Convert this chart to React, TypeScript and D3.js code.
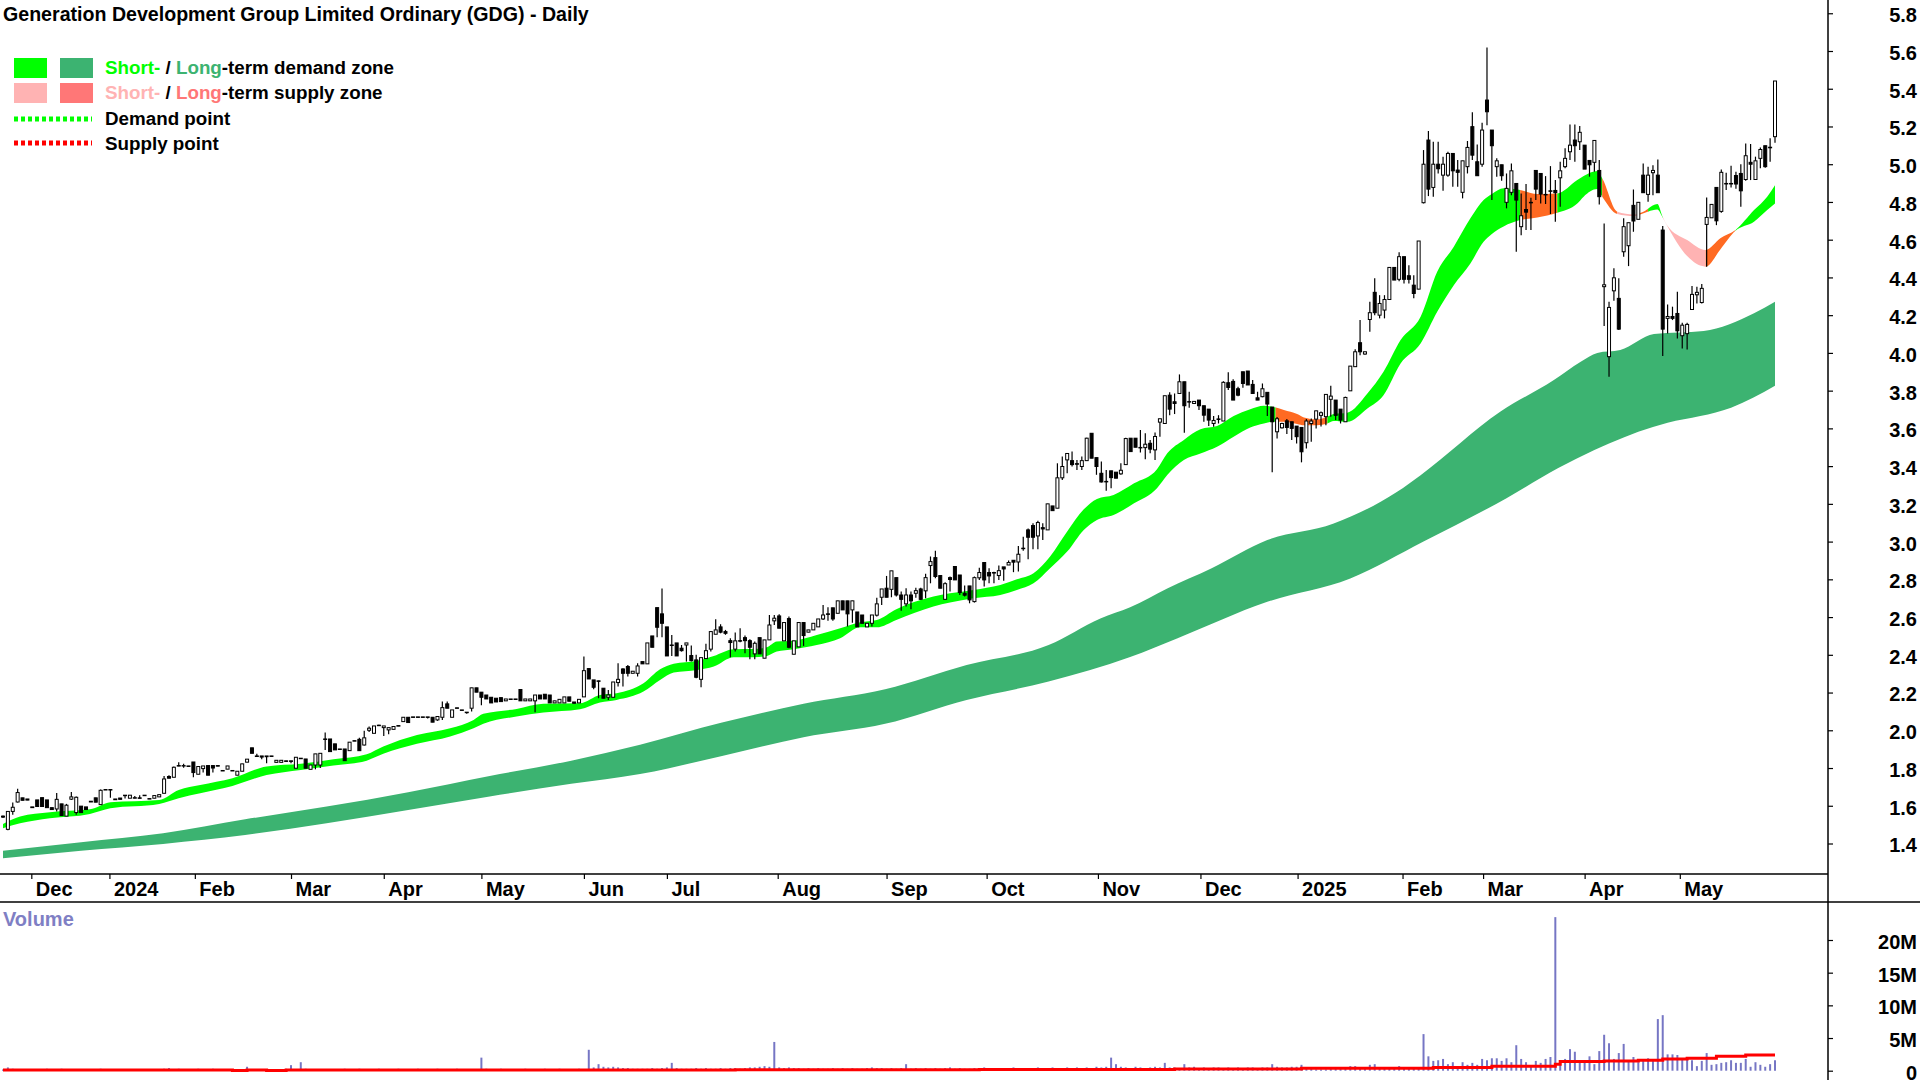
import { useEffect, useRef } from "react"
import * as d3 from "d3"

const candlesLate2023 = [
  [1.545,1.548,1.535,1.54],[1.475,1.57,1.47,1.57],[1.57,1.617,1.552,1.592],[1.62,1.69,1.617,1.67],[1.642,1.642,1.629,1.629],
  [1.636,1.636,1.63,1.63],[1.594,1.594,1.59,1.59],[1.631,1.631,1.596,1.596],[1.643,1.643,1.596,1.596],[1.631,1.631,1.59,1.59],
  [1.59,1.59,1.58,1.58],[1.583,1.668,1.57,1.634],[1.61,1.61,1.548,1.548],[1.545,1.61,1.545,1.603],[1.635,1.673,1.63,1.647],
  [1.564,1.649,1.552,1.645],[1.598,1.598,1.564,1.564],[1.594,1.594,1.58,1.58],[1.624,1.624,1.62,1.62],[1.642,1.642,1.619,1.619],
  [1.606,1.686,1.606,1.682],[1.686,1.686,1.684,1.684],[1.686,1.686,1.642,1.685],[1.636,1.636,1.632,1.632],[1.641,1.641,1.634,1.634],
  [1.655,1.656,1.638,1.656],[1.64,1.656,1.64,1.656],[1.64,1.652,1.638,1.643],[1.642,1.656,1.64,1.64],[1.656,1.656,1.654,1.654],
  [1.638,1.638,1.636,1.636],[1.64,1.654,1.64,1.654],[1.647,1.659,1.647,1.659],[1.666,1.758,1.666,1.742],[1.755,1.762,1.746,1.746],
  [1.751,1.808,1.751,1.804],[1.813,1.83,1.81,1.811],[1.813,1.822,1.802,1.813],[1.811,1.811,1.809,1.809],[1.832,1.832,1.751,1.776],
  [1.767,1.808,1.767,1.808],[1.797,1.811,1.776,1.811],[1.813,1.813,1.762,1.762],[1.813,1.813,1.776,1.8],[1.813,1.813,1.81,1.81],
  [1.787,1.787,1.785,1.785],[1.794,1.811,1.794,1.811],[1.787,1.787,1.785,1.785],[1.762,1.783,1.762,1.783],[1.783,1.822,1.783,1.822],
  [1.831,1.847,1.831,1.847],[1.907,1.907,1.878,1.878],[1.864,1.875,1.861,1.861],[1.864,1.864,1.847,1.858],[1.864,1.864,1.825,1.86],
  [1.864,1.864,1.862,1.862],[1.83,1.841,1.83,1.841],[1.83,1.841,1.83,1.841],[1.838,1.838,1.835,1.835],[1.838,1.838,1.825,1.835],
  [1.799,1.857,1.799,1.857],
]
const candlesMid2024 = [
  [1.852,1.852,1.85,1.85],[1.848,1.848,1.799,1.799],[1.793,1.816,1.793,1.816],[1.816,1.875,1.793,1.875],[1.816,1.878,1.8,1.878],
  [1.954,1.988,1.896,1.952],[1.954,1.954,1.887,1.887],[1.928,1.928,1.896,1.896],[1.901,1.901,1.899,1.899],[1.901,1.901,1.839,1.839],
  [1.892,1.937,1.892,1.937],[1.945,1.945,1.943,1.943],[1.952,1.96,1.892,1.892],[1.922,1.998,1.92,1.96],[2.0,2.02,1.991,2.011],
  [1.984,2.023,1.984,2.023],[2.027,2.03,2.023,2.025],[2.014,2.023,1.97,2.023],[2.002,2.014,1.979,2.014],[2.005,2.02,2.005,2.02],
  [2.025,2.025,2.022,2.022],[2.046,2.069,2.046,2.069],[2.069,2.069,2.041,2.041],[2.071,2.071,2.069,2.069],[2.071,2.071,2.069,2.069],
  [2.071,2.071,2.069,2.069],[2.071,2.071,2.062,2.069],[2.069,2.069,2.043,2.043],[2.055,2.073,2.05,2.073],[2.069,2.152,2.055,2.12],
  [2.14,2.152,2.117,2.117],[2.069,2.108,2.069,2.108],[2.119,2.119,2.117,2.117],[2.108,2.108,2.106,2.106],[2.096,2.096,2.087,2.094],
  [2.117,2.225,2.099,2.225],[2.225,2.225,2.202,2.202],[2.202,2.202,2.133,2.175],[2.187,2.187,2.166,2.166],[2.175,2.175,2.145,2.145],
  [2.17,2.17,2.15,2.15],[2.173,2.173,2.152,2.152],[2.156,2.166,2.156,2.166],[2.166,2.166,2.164,2.164],[2.166,2.166,2.164,2.164],
  [2.216,2.216,2.156,2.156],[2.156,2.166,2.156,2.166],[2.156,2.166,2.156,2.166],[2.156,2.187,2.096,2.187],[2.187,2.187,2.166,2.166],
  [2.191,2.191,2.166,2.166],[2.187,2.187,2.145,2.145],[2.145,2.156,2.145,2.156],[2.145,2.164,2.145,2.164],[2.145,2.177,2.145,2.177],
  [2.177,2.177,2.154,2.154],[2.15,2.15,2.143,2.143],[2.145,2.164,2.145,2.164],[2.177,2.391,2.177,2.316],[2.327,2.327,2.272,2.272],
  [2.267,2.267,2.217,2.228],
]
const candlesWinter2024 = [
  [2.262,2.263,2.17,2.26],[2.223,2.223,2.17,2.17],[2.175,2.214,2.161,2.187],[2.175,2.256,2.175,2.256],[2.253,2.355,2.232,2.27],
  [2.325,2.329,2.232,2.302],[2.338,2.346,2.285,2.302],[2.302,2.313,2.302,2.313],[2.302,2.355,2.285,2.341],[2.364,2.364,2.352,2.352],
  [2.352,2.463,2.352,2.463],[2.5,2.5,2.44,2.44],[2.65,2.65,2.493,2.546],[2.617,2.751,2.493,2.567],[2.548,2.548,2.394,2.394],
  [2.452,2.505,2.394,2.45],[2.463,2.463,2.394,2.394],[2.435,2.452,2.417,2.422],[2.452,2.463,2.364,2.463],[2.396,2.449,2.364,2.369],
  [2.373,2.4,2.276,2.281],[2.27,2.385,2.228,2.385],[2.38,2.458,2.38,2.422],[2.43,2.523,2.417,2.523],[2.509,2.588,2.509,2.532],
  [2.548,2.562,2.514,2.52],[2.523,2.532,2.506,2.514],[2.475,2.488,2.387,2.465],[2.43,2.518,2.417,2.474],[2.475,2.541,2.467,2.473],
  [2.491,2.502,2.408,2.475],[2.475,2.482,2.376,2.44],[2.405,2.47,2.376,2.461],[2.491,2.491,2.405,2.405],[2.382,2.479,2.382,2.479],
  [2.479,2.611,2.479,2.558],[2.58,2.611,2.558,2.594],[2.606,2.615,2.541,2.541],[2.474,2.571,2.474,2.571],[2.592,2.603,2.435,2.44],
  [2.403,2.474,2.403,2.474],[2.442,2.571,2.442,2.571],[2.571,2.571,2.447,2.502],[2.52,2.532,2.52,2.532],[2.532,2.567,2.532,2.567],
  [2.548,2.59,2.548,2.59],[2.59,2.664,2.585,2.611],[2.617,2.652,2.581,2.615],[2.649,2.649,2.58,2.59],[2.62,2.686,2.62,2.686],
  [2.686,2.686,2.638,2.638],[2.686,2.686,2.55,2.617],[2.638,2.686,2.57,2.686],[2.627,2.627,2.548,2.548],[2.611,2.611,2.567,2.567],
  [2.548,2.567,2.548,2.567],[2.567,2.611,2.55,2.611],[2.61,2.702,2.603,2.67],[2.705,2.749,2.664,2.749],[2.753,2.818,2.705,2.705],
  [2.747,2.845,2.705,2.845],[2.809,2.809,2.709,2.717],
]
const candlesSpring2024 = [
  [2.717,2.735,2.634,2.694],[2.67,2.753,2.656,2.717],[2.717,2.735,2.641,2.686],[2.726,2.756,2.703,2.74],[2.749,2.755,2.69,2.694],
  [2.739,2.829,2.7,2.809],[2.873,2.921,2.779,2.894],[2.915,2.952,2.806,2.815],[2.82,2.82,2.753,2.753],[2.694,2.785,2.694,2.777],
  [2.809,2.815,2.735,2.799],[2.868,2.868,2.797,2.797],[2.823,2.823,2.717,2.73],[2.726,2.767,2.709,2.716],[2.765,2.765,2.673,2.691],
  [2.682,2.815,2.677,2.809],[2.808,2.862,2.797,2.836],[2.889,2.889,2.762,2.797],[2.836,2.859,2.779,2.818],[2.836,2.84,2.779,2.834],
  [2.82,2.873,2.797,2.846],[2.866,2.866,2.792,2.855],[2.876,2.9,2.876,2.889],[2.901,2.901,2.838,2.891],[2.892,2.977,2.841,2.933],
  [2.965,3.026,2.952,2.963],[3.062,3.07,2.906,3.023],[3.085,3.097,2.96,3.023],[3.03,3.11,2.96,3.101],[3.074,3.097,3.009,3.067],
  [3.062,3.2,3.062,3.2],[3.189,3.189,3.164,3.164],[3.177,3.415,3.177,3.338],[3.338,3.451,3.327,3.398],[3.433,3.47,3.362,3.467],
  [3.429,3.477,3.398,3.408],[3.413,3.433,3.38,3.41],[3.398,3.451,3.38,3.429],[3.429,3.55,3.429,3.548],[3.574,3.574,3.442,3.442],
  [3.445,3.445,3.354,3.398],[3.362,3.424,3.313,3.316],[3.319,3.38,3.27,3.317],[3.375,3.375,3.283,3.339],[3.368,3.368,3.336,3.336],
  [3.359,3.415,3.354,3.378],[3.408,3.55,3.408,3.546],[3.548,3.548,3.477,3.477],[3.548,3.548,3.5,3.5],[3.499,3.592,3.472,3.497],
  [3.498,3.574,3.437,3.516],[3.521,3.539,3.468,3.49],[3.486,3.578,3.433,3.557],
]
const candlesNewYear = [
  [3.633,3.651,3.556,3.651],[3.626,3.773,3.626,3.773],[3.776,3.791,3.67,3.702],[3.741,3.785,3.676,3.732],[3.785,3.886,3.785,3.847],
  [3.847,3.847,3.577,3.72],[3.742,3.794,3.709,3.74],[3.732,3.745,3.73,3.743],[3.75,3.75,3.697,3.72],[3.72,3.72,3.635,3.67],
  [3.702,3.702,3.612,3.644],[3.626,3.665,3.609,3.642],[3.65,3.67,3.626,3.648],[3.639,3.85,3.639,3.844],[3.842,3.897,3.803,3.817],
  [3.849,3.86,3.75,3.75],[3.81,3.82,3.77,3.776],[3.9,3.9,3.815,3.838],[3.904,3.904,3.83,3.83],[3.833,3.856,3.785,3.785],
  [3.762,3.794,3.75,3.75],[3.768,3.838,3.765,3.81],[3.791,3.791,3.665,3.729],[3.713,3.713,3.367,3.635],[3.582,3.66,3.547,3.651],
  [3.603,3.63,3.6,3.626],[3.64,3.65,3.57,3.605],[3.635,3.635,3.538,3.6],[3.612,3.612,3.52,3.556],[3.605,3.605,3.42,3.476],
  [3.524,3.65,3.494,3.639],[3.626,3.653,3.529,3.639],[3.649,3.693,3.6,3.693],[3.669,3.69,3.61,3.683],[3.662,3.78,3.617,3.78],
  [3.754,3.826,3.662,3.771],[3.75,3.75,3.644,3.669],[3.702,3.702,3.626,3.644],[3.635,3.768,3.635,3.764],[3.799,3.93,3.799,3.93],
  [3.927,4.02,3.927,4.006],[4.054,4.174,3.988,4.006],[3.994,4.006,3.99,4.006],
]
const candlesFebRun = [
  [4.177,4.271,4.112,4.213],[4.321,4.395,4.2,4.213],[4.2,4.306,4.183,4.262],[4.227,4.306,4.183,4.283],[4.283,4.453,4.283,4.453],
  [4.453,4.453,4.386,4.386],[4.39,4.533,4.38,4.51],[4.51,4.51,4.368,4.39],[4.409,4.465,4.368,4.39],[4.359,4.412,4.289,4.315],
  [4.338,4.593,4.338,4.593],
]
const candlesRecent = [
  [4.796,5.075,4.792,5.0],[5.128,5.176,4.831,4.868],[4.877,5.119,4.828,5.0],[5.0,5.119,4.951,4.976],[4.942,5.04,4.859,5.0],
  [4.942,5.066,4.934,5.057],[5.057,5.057,4.881,4.965],[4.969,5.022,4.881,4.957],[4.851,5.018,4.819,5.018],[4.987,5.123,4.951,5.089],
  [5.199,5.275,5.022,5.048],[5.013,5.105,4.939,4.939],[5.0,5.22,4.987,5.181],[5.34,5.619,5.207,5.278],[5.181,5.181,4.81,5.098],
  [4.987,5.031,4.934,5.018],[4.997,4.997,4.912,4.939],[4.798,4.951,4.766,4.872],[4.851,5.004,4.836,4.965],[4.898,4.898,4.536,4.81],
  [4.669,4.845,4.624,4.727],[4.76,4.895,4.651,4.746],[4.798,4.822,4.651,4.796],[4.967,4.967,4.81,4.868],[4.951,4.951,4.792,4.842],
  [4.84,4.937,4.789,4.838],[4.859,4.99,4.736,4.857],[4.861,4.916,4.695,4.849],[4.928,5.013,4.775,4.965],[4.987,5.084,4.978,5.031],
  [5.066,5.211,5.022,5.101],[5.128,5.211,5.013,5.098],[5.119,5.202,5.075,5.169],[5.101,5.101,4.974,4.974],[5.02,5.02,4.934,4.997],
  [5.01,5.126,4.96,5.126],[4.967,5.022,4.787,4.828],[4.351,4.686,4.142,4.361],[3.98,4.271,3.874,4.241],[4.329,4.448,4.276,4.398],
  [4.289,4.395,4.121,4.126],[4.536,4.713,4.51,4.669],[4.568,4.69,4.46,4.69],[4.782,4.866,4.642,4.699],[4.708,4.798,4.708,4.798],
  [4.942,5.004,4.849,4.849],[4.84,4.987,4.801,4.942],[4.955,4.995,4.836,4.967],[4.942,5.025,4.849,4.849],[4.651,4.672,3.983,4.126],
  [4.183,4.257,4.103,4.193],[4.193,4.245,4.174,4.183],[4.209,4.324,4.077,4.117],[4.091,4.16,4.024,4.147],[4.102,4.16,4.018,4.151],
  [4.23,4.354,4.227,4.31],[4.308,4.351,4.262,4.321],[4.267,4.365,4.262,4.342],[4.681,4.824,4.457,4.718],[4.716,4.787,4.716,4.787],
  [4.877,4.877,4.677,4.7],[4.75,4.972,4.743,4.957],[4.898,4.955,4.863,4.896],[4.898,4.992,4.877,4.896],[4.94,4.96,4.87,4.895],
  [4.951,5.0,4.775,4.859],[4.919,5.11,4.912,5.045],[5.01,5.107,4.916,5.0],[4.919,5.04,4.919,5.018],[5.031,5.089,4.978,5.078],
  [5.098,5.098,4.981,4.987],[5.09,5.137,5.013,5.087],[5.146,5.441,5.114,5.441],
]

// short-term zone edges, sampled where the band changes direction
const shortDays = [0,3.5,9.6,17.8,22,32,36,40.4,47,54,61,67.7,74.5,77.9,84.8,91.6,96.4,98.4,105.2,110.7,118.2,122.3,125.7,131.2,134.6,137.4,142.2,145.6,149.7,153.8,156.5,158.5,162,166.7,171.5,175.6,179,183,190.6,194,198.8,204.3,207.7,211.1,214.5,218,221.4,224.1,227.5,231.7,236.4,238.5,241.9,245.3,248.7,252.1,255.5,258.3,260,262.4,265.1,266.5,269.2,271.3,272.6,275.4,279.5,282.8,286.3,290.4,293.8,297.2,300.6,303.3,305,307.4,310.8,314.3,318.4,322.5,323.8,326.6,327.6,330.7,334.1,335.8,338.9,339.9,340.9,345,348.8,351.8,354.9,358.7,361.4,363]
const shortTop = [1.504,1.543,1.566,1.581,1.619,1.631,1.684,1.71,1.746,1.808,1.822,1.846,1.873,1.914,1.975,2.011,2.055,2.087,2.113,2.14,2.143,2.187,2.196,2.249,2.323,2.352,2.368,2.394,2.43,2.431,2.44,2.47,2.475,2.505,2.541,2.573,2.585,2.642,2.709,2.726,2.744,2.77,2.8,2.832,2.921,3.053,3.171,3.226,3.247,3.309,3.384,3.468,3.539,3.595,3.612,3.665,3.702,3.72,3.715,3.697,3.676,3.658,3.648,3.662,3.676,3.683,3.785,3.9,4.068,4.192,4.43,4.563,4.713,4.81,4.842,4.872,4.863,4.842,4.845,4.916,4.937,4.964,4.925,4.748,4.734,4.745,4.789,4.727,4.677,4.598,4.545,4.607,4.651,4.757,4.828,4.889]
const shortBottom = [1.481,1.507,1.534,1.557,1.587,1.61,1.64,1.666,1.705,1.763,1.79,1.813,1.839,1.875,1.928,1.967,2.011,2.034,2.073,2.094,2.111,2.147,2.161,2.205,2.267,2.306,2.32,2.338,2.387,2.387,2.394,2.417,2.43,2.452,2.488,2.546,2.546,2.585,2.656,2.677,2.7,2.717,2.744,2.779,2.859,2.947,3.062,3.115,3.141,3.203,3.283,3.353,3.433,3.467,3.503,3.556,3.605,3.626,3.635,3.635,3.623,3.616,3.617,3.626,3.639,3.635,3.706,3.776,3.944,4.05,4.218,4.359,4.474,4.589,4.63,4.67,4.704,4.718,4.743,4.792,4.828,4.868,4.828,4.736,4.725,4.738,4.76,4.722,4.674,4.513,4.457,4.548,4.647,4.695,4.757,4.792]

// where the short-term zone changes colour
const zoneStarts = [0,260.7,271.3,310.8,318.4,327.6,330.7,335,337,340,348.8,354.9]
const zoneEnds = [260.7,271.3,310.8,318.4,327.6,330.7,335,337,340,348.8,354.9,363]
const zoneKinds = ["demand","overlap","demand","overlap","demand","overlap","supply","overlap","demand","supply","overlap","demand"]

const longTopDays = [0,16,32.8,49.6,66.3,83,99.7,116.4,130.5,147.3,164,180.7,197.4,214.2,224.8,230.9,238.5,247.6,259,272.6,285.6,290.4,306.7,317.7,323.2,326.6,331.3,338.2,348.4,358.7,363]
const longTop = [1.361,1.407,1.454,1.528,1.596,1.672,1.758,1.839,1.924,2.041,2.14,2.217,2.346,2.452,2.593,2.652,2.752,2.859,3.008,3.096,3.264,3.352,3.688,3.856,3.953,4.0,4.015,4.1,4.116,4.21,4.271]
const longBottomDays = [0,16,32.8,49.6,66.3,83,99.7,116.4,130.5,147.3,164,180.7,197.4,214.2,230.9,240.5,259,276,291,308,318.6,326,329,341,347.7,354,363]
const longBottom = [1.322,1.362,1.398,1.445,1.507,1.578,1.649,1.716,1.768,1.864,1.963,2.034,2.161,2.258,2.388,2.487,2.681,2.805,3.0,3.23,3.39,3.485,3.52,3.63,3.665,3.71,3.826]

// volume in millions
const volumeEarly = [
  .2,.5,.3,.2,.2,.1,.2,.2,.2,.3,.2,.2,.3,.2,.2,.1,.2,.1,.2,.2,
  .3,.2,.1,.1,.2,.1,.2,.1,.2,.1,.1,.2,.1,.3,.4,.2,.3,.2,.1,.2,
  .3,.2,.2,.3,.2,.1,.1,.1,.1,.2,.6,.2,.2,.2,.1,.1,.2,.1,.3,.85,
  .2,1.3,.3,.2,.2,.2,.2,.2,.2,.2,.3,.2,.2,.3,.2,.2,.2,.3,.2,.2,
  .2,.3,.2,.2,.2,.3,.2,.2,.2,.3,.2,.2,.2,.3,.2,.2,.2,.2,2.0,.3,
  .2,.2,.3,.2,.2,.2,.2,.3,.2,.2,.2,.3,.2,.2,.3,.2,.2,.2,.3,.2,
  3.2,.5,1.0,.6,.5,.6,.5,.4,.4,.3,.3,.3,.3,.4,.3,.4,.5,1.2,.4,.3,
  .3,.3,.4,.3,.4,.3,.3,.4,.3,.4,.4,.3,.4,.5,.5,.6,.7,.6,4.4,.5,
  .4,.5,.4,.4,.3,.4,.3,.4,.3,.3,.4,.3,.4,.3,.4,.3,.3,.4,.5,.4,
  .4,.3,.4,.3,.4,1.0,.3,.4,.3,.4,.3,.4,.3,.4,.5,.3,.4,.3,.3,.4,
  .4,.5,.3,.4,.4,.3,.4,.5,.3,.4,.4,.3,.5,.4,.3,.5,.4,.4,.5,.4,
  .5,.4,.5,.4,.6,.5,.6,2.0,1.0,.6,.5,.4,.6,.5,.4,.5,.6,.5,1.2,.5,
  .5,.4,1.0,.5,.6,.4,.5,.4,.5,.5,.4,.5,.4,.5,.4,.5,.5,.4,.5,.5,
  1.0,.6,.5,.5,.6,.6,
]
const volumeRecent = [
  .9,.3,.3,.2,.2,.2,.3,.3,.3,.4,.7,.7,.4,.4,.9,1.0,.4,.3,.4,.4,
  .7,.4,.4,.4,.4,5.6,2.2,1.5,1.6,1.8,1.0,1.3,.3,1.3,.9,1.2,.9,1.8,1.6,1.9,
  1.9,1.5,1.9,1.3,3.9,1.8,1.3,.7,1.5,1.2,1.8,2.1,23.5,1.3,1.8,3.3,2.9,1.5,1.2,2.2,
  1.0,3.0,5.5,4.2,1.8,2.7,4.1,1.6,2.1,1.3,1.6,1.9,1.6,7.9,8.5,2.5,2.5,2.4,1.8,1.9,
  1.6,.7,1.5,2.7,.9,1.0,1.2,1.3,1.6,1.2,1.2,1.8,.6,1.3,.9,.6,1.0,1.6,
]
const volumeAvgDays = [0,47,50,54,58,100,150,200,240,266,293,305,318,319,328,335,340,345,351,357,363]
const volumeAvg = [.1,.02,.1,.02,.1,.12,.15,.2,.25,.36,.5,.7,1.0,1.4,1.5,1.6,1.8,1.9,2.2,2.4,2.4]

const priceTicks = [1.4,1.6,1.8,2.0,2.2,2.4,2.6,2.8,3.0,3.2,3.4,3.6,3.8,4.0,4.2,4.4,4.6,4.8,5.0,5.2,5.4,5.6,5.8]
const volumeTicks = [0,5,10,15,20]
const monthDays = [5.8,21.8,39.3,59,78,98,119,136,158.7,181,201.5,224.3,245.3,265.2,286.7,303.2,324,343.5]
const monthLabels = ["Dec","2024","Feb","Mar","Apr","May","Jun","Jul","Aug","Sep","Oct","Nov","Dec","2025","Feb","Mar","Apr","May"]

const FONT = "'Liberation Sans', Arial, sans-serif"
const GREEN = "#00ff00"
const SEA = "#3cb371"
const PINK = "#ffb3b3"
const SALMON = "#ff7777"
const ORANGE = "#ff6a22"
const zoneColor: Record<string, string> = { demand: GREEN, overlap: ORANGE, supply: PINK }

export default function App() {
  const svgRef = useRef<SVGSVGElement>(null)

  useEffect(() => {
    if (!svgRef.current) return
    const svg = d3.select(svgRef.current)
    svg.selectAll("*").remove()

    const candles = [...candlesLate2023, ...candlesMid2024, ...candlesWinter2024, ...candlesSpring2024, ...candlesNewYear, ...candlesFebRun, ...candlesRecent]
    const volumes = [...volumeEarly, ...volumeRecent]

    const x = d3.scaleLinear().domain([0, candles.length - 1]).range([3, 1775])
    const y = d3.scaleLinear().domain([1.4, 5.6]).range([843.5, 51])
    const yVol = d3.scaleLinear().domain([0, 20]).range([1070.7, 940])

    // long zone: area under the top edge, with the part under the bottom edge painted out
    const underTop = d3.area<number>()
      .x((d) => x(longTopDays[d]))
      .y0(y(1))
      .y1((d) => y(longTop[d]))
      .curve(d3.curveMonotoneX)
    const underBottom = d3.area<number>()
      .x((d) => x(longBottomDays[d]))
      .y0(y(1))
      .y1((d) => y(longBottom[d]))
      .curve(d3.curveMonotoneX)
    svg.append("path").attr("d", underTop(d3.range(longTop.length))).attr("fill", SEA)
    svg.append("path").attr("d", underBottom(d3.range(longBottom.length))).attr("fill", "#fff")

    const shortArea = d3.area<number>()
      .x((d) => x(shortDays[d]))
      .y0((d) => y(shortBottom[d]))
      .y1((d) => y(shortTop[d]))
      .curve(d3.curveMonotoneX)
    const defs = svg.append("defs")
    zoneKinds.forEach((kind, i) => {
      defs.append("clipPath").attr("id", `zone${i}`).append("rect")
        .attr("x", x(zoneStarts[i]))
        .attr("y", 0)
        .attr("width", x(zoneEnds[i]) - x(zoneStarts[i]))
        .attr("height", 880)
      svg.append("path")
        .attr("d", shortArea(d3.range(shortDays.length)))
        .attr("fill", zoneColor[kind])
        .attr("clip-path", `url(#zone${i})`)
    })

    // candles
    const g = svg.append("g").attr("stroke", "#000").attr("stroke-width", 1)
    candles.forEach(([open, high, low, close], i) => {
      const cx = x(i)
      g.append("line").attr("x1", cx).attr("x2", cx).attr("y1", y(high)).attr("y2", y(low)).attr("stroke-width", 1.2)
      g.append("rect")
        .attr("x", cx - 1.5)
        .attr("width", 3)
        .attr("y", y(Math.max(open, close)))
        .attr("height", Math.max(0.5, Math.abs(y(open) - y(close))))
        .attr("fill", close >= open ? "#fff" : "#000")
    })

    // volume
    svg.append("g").selectAll("line").data(volumes).enter().append("line")
      .attr("x1", (_, i) => x(i))
      .attr("x2", (_, i) => x(i))
      .attr("y1", yVol(0))
      .attr("y2", (d) => yVol(d))
      .attr("stroke", "#7676c4")
      .attr("stroke-width", 2)
    const avgLine = d3.line<number>().x((d) => x(volumeAvgDays[d])).y((d) => yVol(volumeAvg[d])).curve(d3.curveStepAfter)
    svg.append("path")
      .attr("d", avgLine(d3.range(volumeAvg.length)))
      .attr("fill", "none")
      .attr("stroke", "#ff0000")
      .attr("stroke-width", 3)

    // frame
    const frame = [[0, 874, 1828, 874], [0, 902, 1920, 902], [1828, 0, 1828, 1080]]
    frame.forEach(([x1, y1, x2, y2]) => {
      svg.append("line").attr("x1", x1).attr("y1", y1).attr("x2", x2).attr("y2", y2).attr("stroke", "#000").attr("stroke-width", 1.5)
    })

    const styleAxis = (sel: d3.Selection<SVGGElement, unknown, null, undefined>) => {
      sel.select(".domain").remove()
      sel.selectAll("line").attr("stroke", "#000").attr("stroke-width", 1.2)
      sel.selectAll("text")
        .attr("font-family", FONT)
        .attr("font-weight", "bold")
        .attr("font-size", 20)
        .attr("fill", "#000")
    }

    const priceAxis = svg.append("g").attr("transform", "translate(1828,0)")
      .call(d3.axisRight(y).tickValues(priceTicks).tickFormat(d3.format(".1f") as any).tickSize(5))
    styleAxis(priceAxis as any)
    priceAxis.selectAll("text").attr("text-anchor", "end").attr("x", 89).attr("dy", ".42em")

    const volumeAxis = svg.append("g").attr("transform", "translate(1828,0)")
      .call(d3.axisRight(yVol).tickValues(volumeTicks).tickFormat((d) => (+d === 0 ? "0" : `${d}M`)).tickSize(5))
    styleAxis(volumeAxis as any)
    volumeAxis.selectAll("text").attr("text-anchor", "end").attr("x", 89).attr("dy", ".42em")

    const timeAxis = svg.append("g").attr("transform", "translate(0,874)")
      .call(d3.axisBottom(x).tickValues(monthDays).tickFormat((_, i) => monthLabels[i]).tickSize(5))
    styleAxis(timeAxis as any)
    timeAxis.selectAll("text").attr("text-anchor", "start").attr("x", 4).attr("y", 8)

    // title and legend
    const label = (tx: number, ty: number, parts: [string, string][], size = 18.8) => {
      const t = svg.append("text").attr("x", tx).attr("y", ty)
        .attr("font-family", FONT).attr("font-weight", "bold").attr("font-size", size)
        .attr("dominant-baseline", "middle").attr("xml:space", "preserve")
      parts.forEach(([s, fill]) => t.append("tspan").attr("fill", fill).text(s))
    }
    label(3, 16, [["Generation Development Group Limited Ordinary (GDG) - Daily", "#000"]], 19.6)
    label(3, 921, [["Volume", "#7f7fc4"]], 20)
    label(105, 69, [["Short-", GREEN], [" / ", "#000"], ["Long", SEA], ["-term demand zone", "#000"]])
    label(105, 94, [["Short-", PINK], [" / ", "#000"], ["Long", SALMON], ["-term supply zone", "#000"]])
    label(105, 120, [["Demand point", "#000"]])
    label(105, 145, [["Supply point", "#000"]])

    const swatches: [number, number, string][] = [[14, 58, GREEN], [60, 58, SEA], [14, 83, PINK], [60, 83, SALMON]]
    swatches.forEach(([sx, sy, fill]) => {
      svg.append("rect").attr("x", sx).attr("y", sy).attr("width", 33).attr("height", 20).attr("fill", fill)
    })
    const dotted: [number, string][] = [[119, GREEN], [143, "#ff0000"]]
    dotted.forEach(([ly, stroke]) => {
      svg.append("line").attr("x1", 14).attr("x2", 92).attr("y1", ly).attr("y2", ly)
        .attr("stroke", stroke).attr("stroke-width", 5).attr("stroke-dasharray", "4 3")
    })
  }, [])

  return (
    <svg
      ref={svgRef}
      width={1920}
      height={1080}
      style={{ position: "fixed", left: 0, top: 0, display: "block", background: "#fff" }}
    />
  )
}
